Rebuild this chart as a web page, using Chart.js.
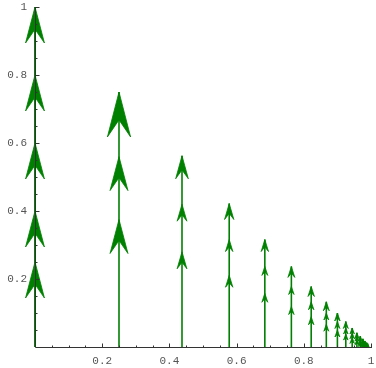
<!DOCTYPE html>
<html>
<head>
<meta charset="utf-8">
<script src="https://cdn.jsdelivr.net/npm/chart.js@4.4.1/dist/chart.umd.min.js"></script>
<style>
    html, body { margin: 0; padding: 0; background: #fff; }
    #wrap { width: 376px; height: 368px; }
</style>
</head>
<body>
<div id="wrap"><canvas id="stemChart"></canvas></div>
<script>
// stem positions and heights
const stemX = [0, 0.25, 0.4375, 0.578, 0.684, 0.763, 0.822, 0.867, 0.9, 0.925, 0.944, 0.958, 0.968, 0.976, 0.982, 0.987, 0.99];
const stemH = [1, 0.75, 0.5625, 0.422, 0.316, 0.237, 0.178, 0.133, 0.1, 0.075, 0.056, 0.042, 0.032, 0.024, 0.018, 0.013, 0.01];

// where each arrowhead tip sits on its stem (y values)
const arrowTips = [
    [1, 0.8, 0.6, 0.4, 0.25],
    [0.75, 0.56, 0.375],
    [0.5625, 0.42, 0.28],
    [0.422, 0.316, 0.211],
    [0.316, 0.237, 0.158],
    [0.237, 0.178, 0.119],
    [0.178, 0.133, 0.089],
    [0.133, 0.1, 0.067],
    [0.1, 0.075, 0.05],
    [0.075, 0.056, 0.038],
    [0.056, 0.042, 0.028],
    [0.042, 0.032, 0.021],
    [0.032, 0.024, 0.016],
    [0.024, 0.018, 0.012],
    [0.018, 0.013, 0.009],
    [0.013, 0.01, 0.007],
    [0.01, 0.0075, 0.005]
];

const xTickLabels = [0.2, 0.4, 0.6, 0.8, 1];
const yTickLabels = [0.2, 0.4, 0.6, 0.8, 1];

// arrowhead lengths in px (style only): top arrow, other arrows
const headTop = [36, 45, 23, 16, 12, 11, 10, 9, 8, 7, 6, 6, 5, 5, 5, 4, 4];
const headRest = [36, 34, 17, 12, 9, 8, 8, 7, 7, 6, 6, 5, 5, 5, 4, 4, 4];

const GREEN = '#008000';

function isMajor(v, list) {
    return list.some(t => Math.abs(t - v) < 1e-6);
}

function fmt(v) {
    return Math.abs(v - 1) < 1e-6 ? '1' : v.toFixed(1);
}

const arrowHeads = {
    id: 'arrowHeads',
    afterDatasetsDraw(chart) {
        const { ctx, chartArea, scales: { x, y } } = chart;
        ctx.save();
        ctx.beginPath();
        ctx.rect(chartArea.left - 20, chartArea.top - 2, chartArea.width + 25, chartArea.height + 2);
        ctx.clip();
        ctx.fillStyle = GREEN;
        ctx.strokeStyle = GREEN;
        ctx.lineWidth = 0.8;
        arrowTips.forEach((tips, i) => {
            const px = x.getPixelForValue(stemX[i]);
            tips.forEach((t, j) => {
                const py = y.getPixelForValue(t);
                const len = j === 0 ? headTop[i] : headRest[i];
                const half = len * 0.24 + 0.8;
                ctx.beginPath();
                ctx.moveTo(px, py);
                ctx.lineTo(px + half, py + len);
                ctx.lineTo(px, py + len * 0.62);
                ctx.lineTo(px - half, py + len);
                ctx.closePath();
                ctx.fill();
                ctx.stroke();
            });
        });
        ctx.restore();
    }
};

const axesLines = {
    id: 'axesLines',
    afterDraw(chart) {
        const { ctx, chartArea, scales: { x, y } } = chart;
        ctx.save();
        ctx.strokeStyle = '#333';
        ctx.lineWidth = 1;
        const x0 = Math.round(x.getPixelForValue(0)) + 0.5;
        const y0 = Math.round(y.getPixelForValue(0)) + 0.5;
        ctx.beginPath();
        ctx.moveTo(x0, y0);
        ctx.lineTo(chartArea.right + 1, y0);
        ctx.moveTo(x0, y0);
        ctx.lineTo(x0, chartArea.top);
        // inward ticks
        x.ticks.forEach(t => {
            if (t.value <= 0) return;
            const px = Math.round(x.getPixelForValue(t.value)) + 0.5;
            const l = isMajor(t.value, xTickLabels) ? 4 : 2;
            ctx.moveTo(px, y0);
            ctx.lineTo(px, y0 - l);
        });
        y.ticks.forEach(t => {
            if (t.value <= 0) return;
            const py = Math.round(y.getPixelForValue(t.value)) + 0.5;
            const l = isMajor(t.value, yTickLabels) ? 4 : 2;
            ctx.moveTo(x0, py);
            ctx.lineTo(x0 + l, py);
        });
        ctx.stroke();
        ctx.restore();
    }
};

const datasets = stemX.map((sx, i) => ({
    data: [{ x: sx, y: 0 }, { x: sx, y: stemH[i] }],
    showLine: true,
    borderColor: GREEN,
    borderWidth: i === 0 ? 2 : 1.6,
    pointRadius: 0,
    clip: false
}));

const tickFont = { family: '"Liberation Mono", "DejaVu Sans Mono", monospace', size: 11 };

new Chart(document.getElementById('stemChart'), {
    type: 'scatter',
    data: { datasets },
    options: {
        responsive: true,
        maintainAspectRatio: false,
        animation: false,
        events: [],
        layout: { padding: { top: 7, right: 5, left: 0, bottom: 0 } },
        plugins: {
            legend: { display: false },
            tooltip: { enabled: false }
        },
        scales: {
            x: {
                type: 'linear',
                min: 0,
                max: 1,
                grid: { display: false, drawTicks: false },
                border: { display: false },
                afterFit: s => { s.height = 21; s.paddingLeft = 0; s.paddingRight = 0; },
                ticks: {
                    stepSize: 0.05,
                    autoSkip: false,
                    maxRotation: 0,
                    padding: 7,
                    color: '#555',
                    font: tickFont,
                    callback: v => isMajor(v, xTickLabels) ? fmt(v) : ''
                }
            },
            y: {
                type: 'linear',
                min: 0,
                max: 1,
                grid: { display: false, drawTicks: false },
                border: { display: false },
                afterFit: s => { s.width = 35; s.paddingTop = 0; s.paddingBottom = 0; },
                ticks: {
                    stepSize: 0.05,
                    autoSkip: false,
                    padding: 8,
                    color: '#555',
                    font: tickFont,
                    callback: v => isMajor(v, yTickLabels) ? fmt(v) : ''
                }
            }
        }
    },
    plugins: [arrowHeads, axesLines]
});
</script>
</body>
</html>
